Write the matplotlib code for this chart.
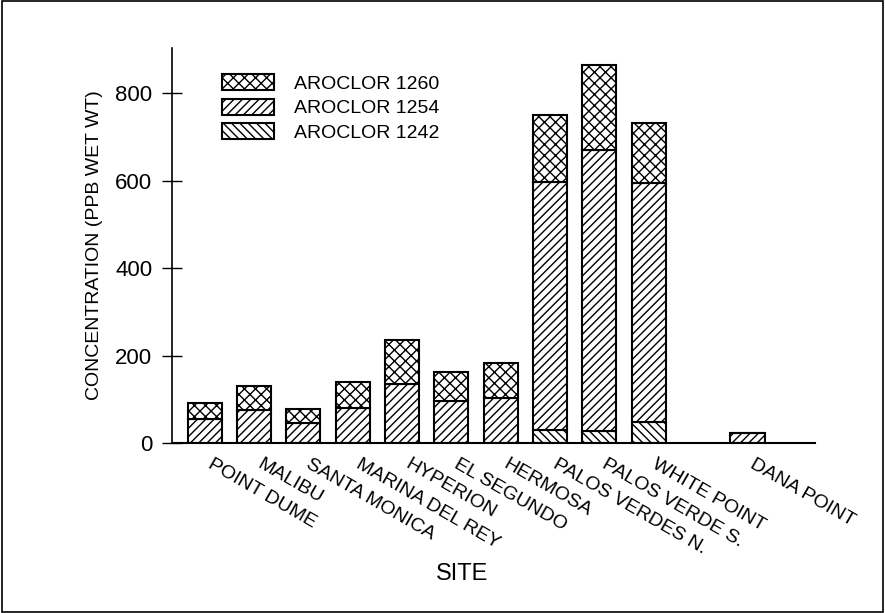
import matplotlib.pyplot as plt
import matplotlib.transforms as mtransforms
from matplotlib.patches import Rectangle

plt.rcParams['font.family'] = ['Liberation Sans', 'DejaVu Sans']
plt.rcParams['hatch.linewidth'] = 1.0

sites = ['POINT DUME', 'MALIBU', 'SANTA MONICA', 'MARINA DEL REY', 'HYPERION',
         'EL SEGUNDO', 'HERMOSA', 'PALOS VERDES N.', 'PALOS VERDE S.',
         'WHITE POINT', 'DANA POINT']
positions = [1, 2, 3, 4, 5, 6, 7, 8, 9, 10, 12]
aroclor_1242 = [0, 0, 0, 0, 0, 0, 0, 30, 27, 48, 0]
aroclor_1254 = [55, 75, 45, 80, 135, 96, 103, 567, 643, 546, 22]
aroclor_1260 = [36, 55, 33, 59, 100, 66, 80, 153, 194, 137, 0]

fig = plt.figure(figsize=(8.85, 6.13), dpi=100)
ax = fig.add_axes([0.194, 0.2773, 0.727, 0.6444])

w = 0.69
kw = dict(width=w, color='white', edgecolor='black', linewidth=1.5)
b1 = ax.bar(positions, aroclor_1242, hatch='\\\\\\\\', **kw)
b2 = ax.bar(positions, aroclor_1254, bottom=aroclor_1242, hatch='////', **kw)
bottom3 = [a + b for a, b in zip(aroclor_1242, aroclor_1254)]
b3 = ax.bar(positions, aroclor_1260, bottom=bottom3, hatch='xxx', **kw)

ax.set_xlim(0.33, 13.37)
ax.set_ylim(0, 903)
ax.set_yticks([0, 200, 400, 600, 800])
ax.tick_params(axis='y', direction='inout', length=14, width=1, labelsize=16, pad=7)
ax.set_xticks(positions)
ax.set_xticklabels(sites, rotation=-30, ha='left', va='top',
                   rotation_mode='anchor', fontsize=14)
ax.tick_params(axis='x', length=0, pad=9)
# подвинуть подписи немного вправо
shift = mtransforms.ScaledTranslation(6 / 72, 0, fig.dpi_scale_trans)
for lab in ax.get_xticklabels():
    lab.set_transform(lab.get_transform() + shift)

for s in ['top', 'right']:
    ax.spines[s].set_visible(False)
ax.spines['left'].set_linewidth(1.2)
ax.spines['bottom'].set_linewidth(1.5)

ax.set_ylabel('CONCENTRATION (PPB WET WT)', fontsize=14, labelpad=9)
ax.set_xlabel('SITE', fontsize=17)
ax.xaxis.set_label_coords(0.452, -0.305)

ax.legend([b3, b2, b1], ['AROCLOR 1260', 'AROCLOR 1254', 'AROCLOR 1242'],
          loc='upper left', bbox_to_anchor=(0.078, 0.934), frameon=False,
          borderpad=0, borderaxespad=0,
          fontsize=14, handlelength=2.7, handleheight=0.9, labelspacing=0.3,
          handletextpad=1.0)

fig.patches.append(Rectangle((0.002, 0.002), 0.996, 0.996, transform=fig.transFigure,
                             fill=False, edgecolor='black', linewidth=1.2))

fig.savefig('out.png', dpi=100)
